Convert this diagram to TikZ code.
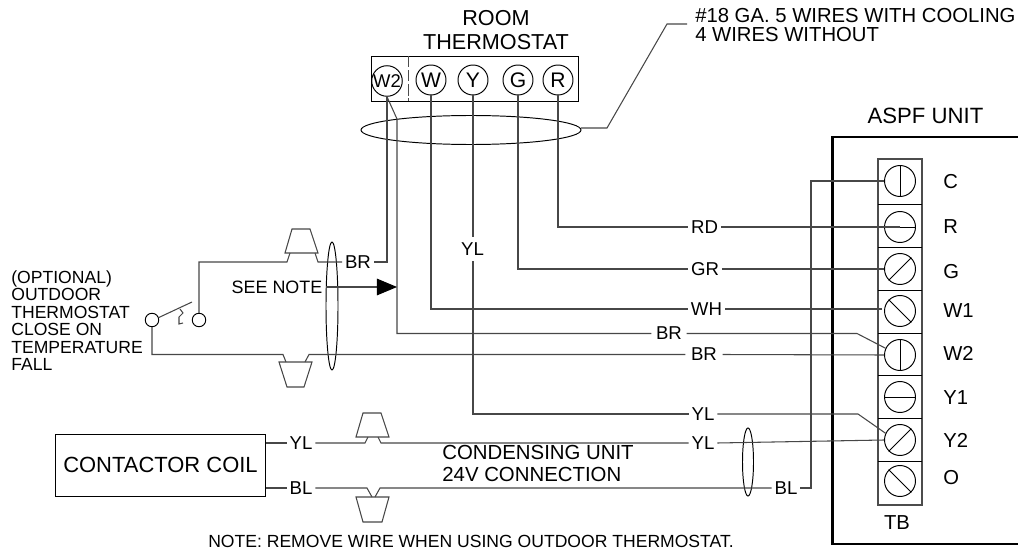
\documentclass[tikz,border=0pt]{standalone}
\usepackage{fontspec}
\setmainfont{Liberation Sans}
\usetikzlibrary{arrows.meta}
\tikzset{
  wire/.style={line width=0.6pt, black!72},
  lbl/.style={inner sep=1.5pt, font=\fontsize{10.6}{12}\selectfont},
  terminal/.style={circle, draw, line width=0.55pt, minimum size=0.6cm, inner sep=0pt, font=\fontsize{12}{12}\selectfont},
  screw/.style={circle, draw, line width=0.55pt, minimum size=0.62cm, inner sep=0pt},
  caption/.style={inner sep=0pt, align=left, font=\fontsize{10.5}{11}\selectfont}
}
\begin{document}
\begin{tikzpicture}[x=0.02cm, y=-0.02cm]
    \useasboundingbox (0, 0) rectangle (1018, 554);

    % Room thermostat
    \draw[line width=0.55pt] (371, 56) rectangle (578, 101);
    \draw[line width=0.55pt, black!70, dash pattern=on 6.5pt off 1.5pt] (408, 56) -- (408, 101);
    \node[inner sep=0pt, align=center, font=\fontsize{12.3}{14}\selectfont] (thermtitle) at (496, 30) {ROOM\\THERMOSTAT};
    \node[terminal, font=\fontsize{10.5}{10}\selectfont] (tW2) at (387, 81) {W2};
    \node[terminal] (tW) at (431, 80) {W};
    \node[terminal] (tY) at (473, 80) {Y};
    \node[terminal] (tG) at (518, 80) {G};
    \node[terminal] (tR) at (558, 80) {R};

    % Cable bundles
    \draw[line width=0.55pt] (471, 130) ellipse (110 and 14.5);
    \draw[line width=0.55pt] (332, 306) ellipse (6 and 64);
    \draw[line width=0.55pt] (748, 462) ellipse (5.5 and 34);
    \coordinate (leadstart) at (581, 128);
    \coordinate (leadknee) at (667, 24);
    \node[caption, anchor=west, inner xsep=4.5pt, font=\fontsize{11.55}{10.8}\selectfont] (cablenote) at (687, 25.5) {\#18 GA. 5 WIRES WITH COOLING\\4 WIRES WITHOUT};
    \draw[wire] (leadstart) -- (607, 128) -- (leadknee) -- (leadknee -| cablenote.west);

    % ASPF unit
    \draw[line width=1.7pt] (1018, 137) -- (832, 137) -- (832, 544) -- (1018, 544);
    \node[inner sep=0pt, font=\fontsize{12.6}{14}\selectfont] (unittitle) at (925.5, 116) {ASPF UNIT};
    \draw[line width=0.7pt, black!70] (878, 159) rectangle (922, 505);
    \foreach \ypos in {204, 247, 290, 333, 375, 418, 461}
        \draw[line width=0.55pt] (878, \ypos) -- (922, \ypos);
    \foreach \name/\ypos/\angA/\angB/\laby/\txt in {
        C/181/90/270/182/C, R/227/0/180/227/R, G/269/45/225/272/G, W1/311/135/315/311/W1,
        W2/355/90/270/353/W2, Yo/397/0/180/398/Y1, Yt/440/45/225/440/Y2, O/481/135/315/478/O} {
        \node[screw] (s\name) at (900, \ypos) {};
        \draw[line width=0.55pt] (s\name.\angA) -- (s\name.\angB);
        \node[lbl, anchor=west, inner sep=0pt, font=\fontsize{11.5}{12}\selectfont] (n\name) at (943, \laby) {\txt};
    }
    \node[lbl, font=\fontsize{11.5}{12}\selectfont] (tblabel) at (897, 523) {TB};

    % Wires from thermostat to unit
    \node[lbl] (rd) at (704.5, 227) {RD};
    \draw[wire] (tR.south) |- (rd.west);
    \draw[wire] (rd.east) -- (sR.center);
    \node[lbl] (gr) at (705, 269) {GR};
    \draw[wire] (tG.south) |- (gr.west);
    \draw[wire] (gr.east) -- (sG.west);
    \node[lbl] (wh) at (706.5, 309) {WH};
    \draw[wire] (tW.south) |- (wh.west);
    \draw[wire] (wh.east) -- (882, 309);
    \node[lbl, inner ysep=3pt] (ylv) at (472.5, 249) {YL};
    \node[lbl] (yla) at (703, 414) {YL};
    \draw[wire] (tY.south) -- (tY.south |- ylv.north);
    \draw[wire] (tY.south |- ylv.south) |- (yla.west);
    \draw[wire] (yla.east) -- (858, 414) -- (sYt.155);

    % W2 wires
    \node[lbl] (bra) at (358, 262) {BR};
    \node[lbl, inner xsep=2.5pt] (brb) at (669, 333.5) {BR};
    \node[lbl, inner xsep=3pt] (brc) at (704, 354.5) {BR};
    \coordinate (jog) at (397, 119);
    \draw[wire] (tW2.south) |- (bra.east);
    \draw[wire] (tW2.south) -- (jog) |- (brb.west);
    \draw[wire] (brb.east) -- (857, 333.5) -- (sW2.155);
    \draw[wire] (brc.east) -- (sW2.west);
    \node[lbl, inner sep=2pt, font=\fontsize{10.2}{12}\selectfont] (seenote) at (277, 287) {SEE NOTE};
    \draw[wire, -{Triangle[length=11.5pt, width=9.5pt, black]}] (seenote.east) -- (397, 287);

    % Outdoor thermostat
    \node[caption, anchor=north west, font=\fontsize{10}{10}\selectfont] (outdoor) at (11, 270) {(OPTIONAL)\\OUTDOOR\\THERMOSTAT\\CLOSE ON\\TEMPERATURE\\FALL};
    \node[circle, draw, line width=0.55pt, minimum size=0.27cm, inner sep=0pt] (swa) at (152, 320) {};
    \node[circle, draw, line width=0.55pt, minimum size=0.27cm, inner sep=0pt] (swb) at (199, 320) {};
    \draw[wire] (swa.20) -- (192, 302);
    \draw[wire] (180, 309) -- (183, 313) -- (179, 317) -- (179, 324) -- (183, 323);

    % Wire nuts, outdoor thermostat
    \draw[wire] (292, 229) -- (310, 229) -- (318, 253) -- (285, 253) -- cycle;
    \draw[wire] (279, 362) -- (312, 362) -- (304, 387) -- (287, 387) -- cycle;
    \draw[wire] (swb.north) |- (287, 262) -- (290, 253);
    \draw[wire] (315, 253) -- (318, 262) -- (bra.west);
    \draw[wire] (swa.south) |- (283, 354.5) -- (286, 362);
    \draw[wire] (305, 362) -- (309, 354.5) -- (brc.west);

    % Contactor coil
    \node[draw, line width=0.55pt, minimum width=4.22cm, minimum height=1.24cm, inner sep=0pt, font=\fontsize{12.5}{12}\selectfont] (coil) at (160.5, 465) {CONTACTOR COIL};
    \node[lbl] (ylc) at (301, 443) {YL};
    \node[lbl] (blc) at (301, 488) {BL};
    \node[lbl] (yld) at (703, 443) {YL};
    \node[lbl] (bld) at (786, 488) {BL};
    \draw[wire] (coil.east |- ylc) -- (ylc.west);
    \draw[wire] (coil.east |- blc) -- (blc.west);

    % Wire nuts, condensing unit
    \draw[wire] (363, 413) -- (381, 413) -- (389, 437) -- (356, 437) -- cycle;
    \draw[wire] (356, 497) -- (389, 497) -- (382, 522) -- (363, 522) -- cycle;
    \draw[wire] (ylc.east) -- (365, 443) -- (368, 437);
    \draw[wire] (378, 437) -- (381, 443) -- (yld.west);
    \draw[wire] (blc.east) -- (367, 488) -- (372, 497);
    \draw[wire] (375, 497) -- (380, 488) -- (bld.west);
    \draw[wire] (yld.east) -- (sYt.west);
    \draw[wire] (bld.east) -- (811, 488) |- (sC.west);

    % Notes
    \node[caption, anchor=west, font=\fontsize{11.6}{12}\selectfont] (condnote) at (442, 463.5) {CONDENSING UNIT\\24V CONNECTION};
    \node[caption, font=\fontsize{10}{10}\selectfont] (footnote) at (471, 541) {NOTE: REMOVE WIRE WHEN USING OUTDOOR THERMOSTAT.};
\end{tikzpicture}
\end{document}
